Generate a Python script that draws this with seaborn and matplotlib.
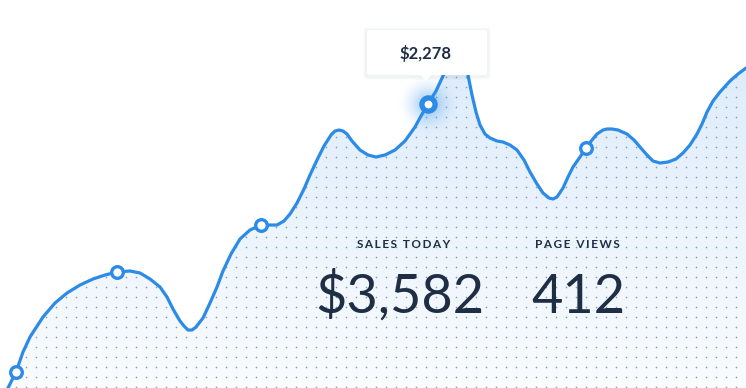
import numpy as np
import pandas as pd
import matplotlib
matplotlib.use('Agg')
import matplotlib.pyplot as plt
import seaborn as sns
from matplotlib.patches import PathPatch, FancyBboxPatch, Polygon
from matplotlib.colors import LinearSegmentedColormap

# Curve: minute of the day vs sales level (chart units)
minute = [0, 8, 16, 23, 30, 43, 55, 67, 80, 93, 105, 117, 130, 140, 150, 160, 167, 173,
          180, 184, 188, 192, 196, 203, 210, 217, 223, 231, 240, 250, 261, 270, 277, 284, 290, 297,
          304, 310, 317, 324, 331, 335, 339, 343, 347, 352, 360, 368, 376, 385, 395, 405, 415, 421,
          428, 436, 443, 450, 456, 461, 465, 468, 472, 476, 480, 485, 490, 497, 503, 510,
          517, 524, 530, 537, 543, 549, 553, 557, 563, 568, 573, 580, 586, 592, 597, 603,
          607, 612, 618, 627, 634, 640, 647, 653, 660, 668, 676, 683, 690, 697, 702, 707, 713,
          720, 730, 738, 746]
sales_level = [-17, 0, 16, 36, 51, 71, 85, 95, 103, 109, 113, 116, 117, 115, 109, 101, 91, 79,
               67, 62, 58, 58, 61, 70, 85, 101, 117, 134, 149, 158, 163, 163, 163, 167, 174, 185,
               199, 213, 228, 242, 253, 257, 258, 257, 254, 247, 238, 233, 231, 233, 238, 247, 261, 272,
               284, 297, 312, 328, 340, 338, 326, 313, 293, 276, 263, 254, 250, 247, 246, 243,
               238, 228, 216, 204, 195, 190, 189, 191, 200, 211, 221, 231, 240, 248, 254, 258,
               259, 259, 258, 254, 248, 241, 233, 227, 225, 226, 229, 235, 243, 254, 264, 276, 287,
               296, 307, 314, 320]

marker_minute = [16, 117, 261, 586]
marker_level = [16, 116, 163, 240]
active_minute = [428]
active_level = [284]

tooltip_label = '$2,278'
stat_titles = ['SALES TODAY', 'PAGE VIEWS']
stat_values = ['$3,582', '412']

blue = '#2b8be6'
ink = '#1e2e44'

sns.set_style('white')
plt.rcParams['font.family'] = ['Lato', 'DejaVu Sans']

fig = plt.figure(figsize=(7.46, 3.88), dpi=100)
ax = fig.add_axes([0, 0, 1, 1])

df = pd.DataFrame({'minute': minute, 'sales': sales_level})

# area under curve, used as clip for gradient and dot grid
area = ax.fill_between(df['minute'], df['sales'], -50, color='none', linewidth=0)
clip = PathPatch(area.get_paths()[0], transform=ax.transData,
                 facecolor='none', edgecolor='none')
ax.add_patch(clip)

cmap = LinearSegmentedColormap.from_list('fade', ['#fafcfe', '#d8e9fa'])
grad = np.linspace(0, 1, 256).reshape(-1, 1)
im = ax.imshow(grad, cmap=cmap, origin='lower', extent=[0, 746, 0, 388],
               aspect='auto', zorder=1)
im.set_clip_path(clip)

# dot grid
gx, gy = np.meshgrid(np.arange(6, 746, 10), np.arange(381, -10, -10))
dots = ax.scatter(gx.ravel(), gy.ravel(), s=1.4, c='#7f9dbc', linewidths=0, zorder=2)
dots.set_clip_path(clip)

sns.lineplot(data=df, x='minute', y='sales', color=blue, linewidth=2.3, ax=ax,
             zorder=4, solid_capstyle='round', solid_joinstyle='round')

sns.scatterplot(x=marker_minute, y=marker_level, s=70, color='white',
                edgecolor=blue, linewidth=2.4, zorder=5, ax=ax)

# glow around active point
r = np.linspace(-1, 1, 121)
xx, yy = np.meshgrid(r, r)
dist = np.sqrt(xx ** 2 + yy ** 2)
glow = np.zeros((121, 121, 4))
glow[..., 0], glow[..., 1], glow[..., 2] = 0.17, 0.55, 0.90
glow[..., 3] = np.clip(1 - dist, 0, 1) ** 1.8 * 0.55
ax.imshow(glow, extent=[active_minute[0] - 32, active_minute[0] + 32,
                        active_level[0] - 32, active_level[0] + 32],
          origin='lower', aspect='auto', zorder=3)
sns.scatterplot(x=active_minute, y=active_level, s=90, color='white',
                edgecolor=blue, linewidth=3.8, zorder=6, ax=ax)

# tooltip
for i, a in enumerate([0.025, 0.02, 0.015]):
    ax.add_patch(FancyBboxPatch((367 - 2 - i, 313 - 3 - i), 120 + 4 + 2 * i, 45 + 4 + 2 * i,
                                boxstyle='round,pad=0,rounding_size=4',
                                facecolor='#33475b', alpha=a, edgecolor='none', zorder=7))
ax.add_patch(FancyBboxPatch((367, 313), 120, 45, boxstyle='round,pad=0,rounding_size=3',
                            facecolor='white', edgecolor='none', zorder=8))
ax.add_patch(Polygon([(420, 314), (432, 314), (426, 307)], closed=True,
                     facecolor='white', edgecolor='none', zorder=8))
ax.text(425, 334, tooltip_label, ha='center', va='center', fontsize=12,
        fontweight='bold', color=ink, zorder=9)

# stats
for tx, vx, title, value in zip([404, 577], [400, 578], stat_titles, stat_values):
    ax.text(tx, 143, '\u2009'.join(title), ha='center', va='center', fontsize=8.5,
            fontweight='bold', color=ink, zorder=9)
    ax.text(vx, 75, value, ha='center', va='baseline', fontsize=39,
            fontweight='normal', color=ink, zorder=9)

ax.set_xlim(0, 746)
ax.set_ylim(0, 388)
ax.set_axis_off()

fig.savefig('out.png', dpi=100)
